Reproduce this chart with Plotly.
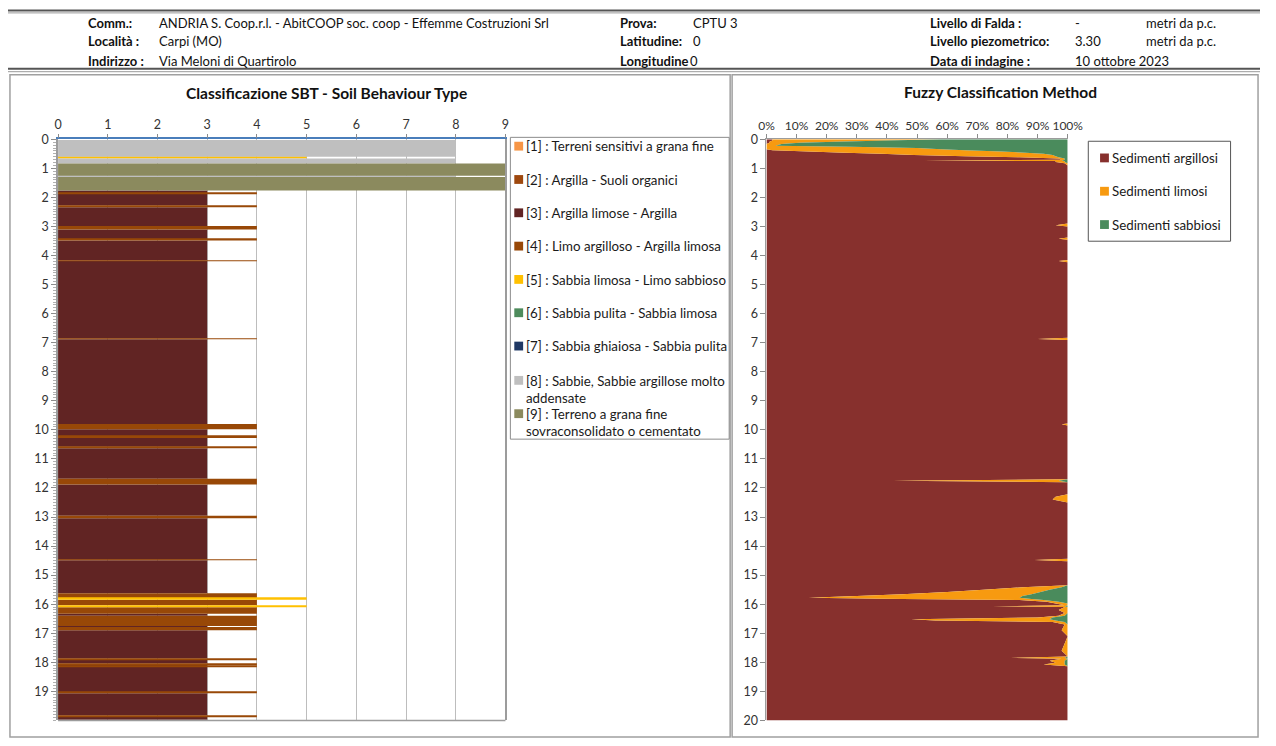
import plotly.graph_objects as go

W, H = 1276, 746

# ---------------- data ----------------
sbt_classes = [1, 2, 3, 4, 5, 6, 7, 8, 9]
sbt_labels = [
    "[1] : Terreni sensitivi a grana fine",
    "[2] : Argilla - Suoli organici",
    "[3] : Argilla limose - Argilla",
    "[4] : Limo argilloso - Argilla limosa",
    "[5] : Sabbia limosa - Limo sabbioso",
    "[6] : Sabbia pulita - Sabbia limosa",
    "[7] : Sabbia ghiaiosa - Sabbia pulita",
    "[8] : Sabbie, Sabbie argillose molto<br>addensate",
    "[9] : Terreno a grana fine<br>sovraconsolidato o cementato",
]
sbt_colors = ["#F79646", "#9E480E", "#612423", "#984807", "#FFC000",
              "#4E8B5C", "#1F3864", "#BFBFBF", "#8B8A5E"]

# SBT layers: top depth, bottom depth (m), class
sbt_top = [0.02, 0.60, 0.66, 0.83, 1.25, 1.30, 1.76, 1.85, 1.87, 2.28, 2.34, 2.98,
           3.10, 3.44, 3.48, 4.17, 4.19, 6.86, 6.88, 9.80, 9.98, 10.22, 10.28,
           10.58, 10.63, 11.68, 11.88, 12.96, 13.04, 14.47, 14.49, 15.62, 15.79,
           15.85, 16.04, 16.11, 16.33, 16.40, 16.75, 16.79, 16.90, 17.87, 17.91,
           18.04, 18.08, 18.11, 18.15, 19.03, 19.07, 19.83, 19.88]
sbt_bottom = [0.60, 0.66, 0.83, 1.25, 1.30, 1.76, 1.85, 1.87, 2.28, 2.34, 2.98, 3.10,
              3.44, 3.48, 4.17, 4.19, 6.86, 6.88, 9.80, 9.98, 10.22, 10.28, 10.58,
              10.63, 11.68, 11.88, 12.96, 13.04, 14.47, 14.49, 15.62, 15.79, 15.85,
              16.04, 16.11, 16.33, 16.40, 16.75, 16.79, 16.90, 17.87, 17.91, 18.04,
              18.08, 18.11, 18.15, 19.03, 19.07, 19.83, 19.88, 19.98]
sbt_class = [8, 5, 8, 9, 8, 9, 3, 4, 3, 4, 3, 4,
             3, 4, 3, 4, 3, 4, 3, 4, 3, 4, 3,
             4, 3, 4, 3, 4, 3, 4, 3, 4, 5,
             4, 5, 4, 3, 4, 3, 4, 3, 4, 3,
             4, 3, 4, 3, 4, 3, 4, 3]

# Fuzzy classification (percent) vs depth
fz_depth = [0.00, 0.04, 0.08, 0.12, 0.16, 0.22, 0.26, 0.30, 0.34, 0.38, 0.42, 0.46,
            0.50, 0.54, 0.58, 0.62, 0.66, 0.70, 0.73, 0.75, 0.78, 0.82, 0.90,
            2.90, 2.96, 3.00, 3.38, 3.42, 3.46, 4.15, 4.19, 4.23, 6.83, 6.87, 6.91,
            9.78, 9.81, 9.85, 11.70, 11.75, 11.80, 12.22, 12.30, 12.40, 12.50,
            14.44, 14.48, 14.52, 15.35, 15.42, 15.50, 15.58, 15.66, 15.72, 15.78,
            15.82, 15.86, 15.92, 15.98, 16.04, 16.07, 16.10, 16.20, 16.30, 16.40,
            16.46, 16.52, 16.56, 16.61, 16.70, 16.90, 17.10, 17.60, 17.80, 17.85,
            17.88, 17.95, 18.02, 18.08, 18.14, 20.00]
fz_clay = [2, 2, 1, 1, 0, 0, 0, 0, 0, 2, 14, 26,
           38, 49, 66, 84, 97, 98, 52, 96, 96, 99, 100,
           100, 96, 100, 100, 97, 100, 100, 97, 100, 100, 90, 100,
           100, 98, 100, 100, 42, 100, 100, 96, 95, 100,
           100, 89, 100, 100, 85, 72, 60, 45, 30, 14,
           45, 84, 93, 96, 99, 75, 99, 97, 99, 97,
           90, 48, 56, 95, 99, 98, 100, 98, 100, 81,
           98, 94, 96, 92, 100, 100]
fz_silt = [56, 38, 22, 10, 5, 3, 28, 50, 58, 64, 64, 60,
           54, 46, 30, 13, 2, 1, 46, 3, 3, 1, 0,
           0, 4, 0, 0, 3, 0, 0, 3, 0, 0, 10, 0,
           0, 2, 0, 0, 55, 0, 0, 4, 5, 0,
           0, 11, 0, 0, 13, 22, 31, 43, 55, 70,
           43, 8, 4, 4, 1, 24, 1, 3, 1, 2,
           5, 46, 40, 4, 1, 2, 0, 2, 0, 18,
           2, 5, 3, 7, 0, 0]
fz_sand = [42, 60, 77, 89, 95, 97, 72, 50, 42, 34, 22, 14,
           8, 5, 4, 3, 1, 1, 2, 1, 1, 0, 0,
           0, 0, 0, 0, 0, 0, 0, 0, 0, 0, 0, 0,
           0, 0, 0, 0, 3, 0, 0, 0, 0, 0,
           0, 0, 0, 0, 2, 6, 9, 12, 15, 16,
           12, 8, 3, 0, 0, 1, 0, 0, 0, 1,
           5, 6, 4, 1, 0, 0, 0, 0, 0, 1,
           0, 1, 1, 1, 0, 0]
fz_names = ["Sedimenti argillosi", "Sedimenti limosi", "Sedimenti sabbiosi"]
fz_colors = ["#87302D", "#F79A10", "#4A8B5C"]

x_ticks_sbt = list(range(0, 10))
y_ticks_sbt = list(range(0, 20))
x_ticks_fz = list(range(0, 101, 10))
x_text_fz = [f"{v}%" for v in x_ticks_fz]
y_ticks_fz = list(range(0, 21))


# ---------------- helpers (page pixels -> paper) ----------------
def px(x):
    return x / W


def py(y):
    return 1 - y / H


FONT = "Lato"
fig = go.Figure()

# SBT bars
for c, col in zip(sbt_classes, sbt_colors):
    ys, ws, xs = [], [], []
    for t, b, k in zip(sbt_top, sbt_bottom, sbt_class):
        if k == c:
            ys.append((t + b) / 2)
            ws.append(b - t)
            xs.append(c)
    if not ys:
        continue
    fig.add_trace(go.Bar(
        x=xs, y=ys, width=ws, orientation="h", base=0,
        marker=dict(color=col, line=dict(width=0)),
        showlegend=False, xaxis="x", yaxis="y", hoverinfo="skip"))

# Fuzzy stacked areas
for vals, name, col in zip([fz_clay, fz_silt, fz_sand], fz_names, fz_colors):
    fig.add_trace(go.Scatter(
        x=vals, y=fz_depth, stackgroup="fz", orientation="h", mode="none",
        fillcolor=col, name=name, showlegend=False,
        xaxis="x2", yaxis="y2", hoverinfo="skip"))

dom_y = [py(727), py(134)]
tickfont = dict(family=FONT, size=12.5, color="#333333")
tickfont_pct = dict(family=FONT, size=12, color="#333333")

fig.update_layout(
    width=W, height=H, margin=dict(l=0, r=0, t=0, b=0),
    paper_bgcolor="white", plot_bgcolor="white",
    barmode="overlay", showlegend=False,
    font=dict(family=FONT, size=12, color="#1a1a1a"),
    xaxis=dict(domain=[px(51), px(507)], range=[0, 9], side="top",
               tickvals=x_ticks_sbt, showgrid=True, gridcolor="#BDBDBD",
               gridwidth=1, zeroline=False, showline=True,
               linecolor="#4A7EBB", linewidth=1.5, ticks="outside",
               ticklen=4, tickcolor="#8C8C8C", tickfont=tickfont,
               tickangle=0, anchor="y", fixedrange=True),
    yaxis=dict(domain=dom_y, range=[20, 0], tickvals=y_ticks_sbt,
               showgrid=False, zeroline=False, showline=True, mirror=True,
               linecolor="#9C9C9C", linewidth=1.5, ticks="outside",
               ticklen=5, tickcolor="#8C8C8C", tickfont=tickfont,
               minor=dict(ticks="outside", dtick=0.1, ticklen=3,
                          tickcolor="#B0B0B0", showgrid=False),
               anchor="x", fixedrange=True),
    xaxis2=dict(domain=[px(773), px(1080)], range=[0, 100], side="top",
                tickvals=x_ticks_fz, ticktext=x_text_fz, showgrid=False,
                zeroline=False, showline=True, linecolor="#9C9C9C",
                linewidth=1, ticks="outside", ticklen=4, tickcolor="#8C8C8C",
                tickfont=tickfont_pct, tickangle=0, anchor="y2",
                fixedrange=True),
    yaxis2=dict(domain=dom_y, range=[20, 0], tickvals=y_ticks_fz,
                showgrid=False, zeroline=False, showline=True,
                linecolor="#9C9C9C", linewidth=1, ticks="outside", ticklen=5,
                tickcolor="#8C8C8C", tickfont=tickfont, anchor="x2",
                fixedrange=True),
)

shapes = []
# header lines
for y, wdt, col in [(2.5, 2, "#555555"), (5, 1, "#9A9A9A"),
                    (62, 2, "#555555"), (65, 1, "#9A9A9A")]:
    shapes.append(dict(type="line", xref="paper", yref="paper",
                       x0=0, x1=1, y0=py(y), y1=py(y),
                       line=dict(color=col, width=wdt)))
# panel frames
for x0, x1 in [(2, 736), (738, 1274)]:
    shapes.append(dict(type="rect", xref="paper", yref="paper",
                       x0=px(x0), x1=px(x1), y0=py(744), y1=py(68),
                       line=dict(color="#A0A0A0", width=1.5)))
# bottom border of SBT plot
shapes.append(dict(type="line", xref="paper", yref="paper",
                   x0=px(51), x1=px(507), y0=py(727), y1=py(727),
                   line=dict(color="#9C9C9C", width=1.5)))

annotations = []
# header text
header = [
    (79, 15, "<b>Comm.:</b>"), (152, 15, "ANDRIA S. Coop.r.l. - AbitCOOP soc. coop - Effemme Costruzioni Srl"),
    (79, 34, "<b>Località :</b>"), (152, 34, "Carpi (MO)"),
    (79, 54, "<b>Indirizzo :</b>"), (152, 54, "Via Meloni di Quartirolo"),
    (622, 15, "<b>Prova:</b>"), (696, 15, "CPTU 3"),
    (622, 34, "<b>Latitudine:</b>"), (696, 34, "0"),
    (622, 54, "<b>Longitudine</b>"), (693, 54, "0"),
    (938, 15, "<b>Livello di Falda :</b>"), (1085, 15, "-"), (1158, 15, "metri da p.c."),
    (938, 34, "<b>Livello piezometrico:</b>"), (1085, 34, "3.30"), (1158, 34, "metri da p.c."),
    (938, 54, "<b>Data di indagine :</b>"), (1085, 54, "10 ottobre 2023"),
]
for x, y, t in header:
    annotations.append(dict(x=px(x), y=py(y), xref="paper", yref="paper",
                            text=t, showarrow=False, xanchor="left",
                            yanchor="middle", font=dict(size=13, color="#111111")))
# titles
annotations.append(dict(x=px(325), y=py(87), xref="paper", yref="paper",
                        text="<b>Classificazione SBT - Soil Behaviour Type</b>",
                        showarrow=False, xanchor="center", yanchor="middle",
                        font=dict(size=15.5, color="#111111")))
annotations.append(dict(x=px(1012), y=py(86), xref="paper", yref="paper",
                        text="<b>Fuzzy Classification Method</b>",
                        showarrow=False, xanchor="center", yanchor="middle",
                        font=dict(size=15.5, color="#111111")))

# SBT legend (drawn)
shapes.append(dict(type="rect", xref="paper", yref="paper",
                   x0=px(512), x1=px(735), y0=py(440), y1=py(132),
                   line=dict(color="#8C8C8C", width=1)))
leg_y = [141, 175, 209, 243, 277, 311, 345, 380, 414]
for yy, lab, col in zip(leg_y, sbt_labels, sbt_colors):
    shapes.append(dict(type="rect", xref="paper", yref="paper",
                       x0=px(516), x1=px(525), y0=py(yy + 4.5), y1=py(yy - 4.5),
                       line=dict(width=0), fillcolor=col))
    annotations.append(dict(x=px(526), y=py(yy - 10), xref="paper", yref="paper",
                            text=lab, showarrow=False, xanchor="left",
                            yanchor="top", align="left",
                            font=dict(size=13.3, color="#1a1a1a")))

# Fuzzy legend (drawn)
shapes.append(dict(type="rect", xref="paper", yref="paper",
                   x0=px(1101), x1=px(1246), y0=py(238), y1=py(136),
                   line=dict(color="#555555", width=1)))
for yy, lab, col in zip([153, 187, 221], fz_names, fz_colors):
    shapes.append(dict(type="rect", xref="paper", yref="paper",
                       x0=px(1113), x1=px(1122), y0=py(yy + 4.5), y1=py(yy - 4.5),
                       line=dict(width=0), fillcolor=col))
    annotations.append(dict(x=px(1123), y=py(yy), xref="paper", yref="paper",
                            text=lab, showarrow=False, xanchor="left",
                            yanchor="middle", font=dict(size=13.3, color="#1a1a1a")))

fig.update_layout(shapes=shapes, annotations=annotations)

fig.write_html("out.html", config={"displayModeBar": False},
               post_script="document.body.style.margin='0';document.body.style.overflow='hidden';")
